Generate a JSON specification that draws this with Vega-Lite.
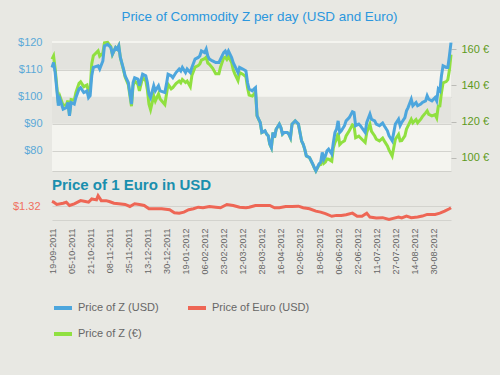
{
  "$schema": "https://vega.github.io/schema/vega-lite/v6.json",
  "background": "#e8e8e3",
  "padding": {"left": 12, "top": 9, "right": 13, "bottom": 35},
  "autosize": {"type": "pad"},
  "title": {"text": "Price of Commodity Z per day (USD and Euro)", "fontSize": 13.4, "font": "Liberation Sans", "fontWeight": "normal", "color": "#2b97de", "anchor": "middle", "offset": 13, "dx": 9},
  "config": {"font": "Liberation Sans", "view": {"stroke": null}},
  "datasets": {
    "z": [
      {"t":0,"usd":110.9,"eur":154.5},{"t":1,"usd":112.7,"eur":156.3},{"t":2,"usd":109.0,"eur":149.1},{"t":4,"usd":96.7,"eur":130.3},{"t":5,"usd":99.1,"eur":133.9},{"t":7,"usd":95.4,"eur":128.9},{"t":9,"usd":96.0,"eur":129.3},{"t":10,"usd":97.9,"eur":131.6},{"t":11,"usd":93.0,"eur":123.7},{"t":12,"usd":97.9,"eur":132.2},{"t":14,"usd":97.3,"eur":131.8},{"t":15,"usd":99.7,"eur":136.0},{"t":17,"usd":102.9,"eur":141.2},{"t":18,"usd":103.4,"eur":142.0},{"t":20,"usd":101.6,"eur":139.3},{"t":22,"usd":102.2,"eur":140.2},{"t":23,"usd":99.7,"eur":136.0},{"t":24,"usd":100.4,"eur":137.5},{"t":25,"usd":107.8,"eur":151.9},{"t":26,"usd":110.9,"eur":156.5},{"t":29,"usd":111.5,"eur":159.1},{"t":30,"usd":110.3,"eur":156.2},{"t":32,"usd":113.3,"eur":157.9},{"t":33,"usd":118.9,"eur":163.6},{"t":35,"usd":119.5,"eur":163.9},{"t":37,"usd":118.3,"eur":161.5},{"t":38,"usd":115.8,"eur":157.2},{"t":40,"usd":118.3,"eur":161.0},{"t":41,"usd":117.7,"eur":160.1},{"t":42,"usd":118.9,"eur":161.9},{"t":43,"usd":114.6,"eur":155.4},{"t":45,"usd":110.3,"eur":148.4},{"t":46,"usd":107.8,"eur":144.7},{"t":48,"usd":105.3,"eur":140.4},{"t":50,"usd":97.3,"eur":128.5},{"t":51,"usd":105.3,"eur":139.8},{"t":52,"usd":107.1,"eur":142.5},{"t":54,"usd":106.6,"eur":140.7},{"t":55,"usd":104.1,"eur":136.9},{"t":57,"usd":108.4,"eur":144.5},{"t":59,"usd":107.8,"eur":142.5},{"t":60,"usd":105.3,"eur":137.6},{"t":61,"usd":101.0,"eur":129.6},{"t":62,"usd":99.7,"eur":126.6},{"t":64,"usd":104.1,"eur":134.2},{"t":65,"usd":102.2,"eur":131.4},{"t":67,"usd":104.1,"eur":135.3},{"t":68,"usd":102.2,"eur":132.5},{"t":71,"usd":101.6,"eur":129.4},{"t":72,"usd":104.7,"eur":135.1},{"t":73,"usd":108.4,"eur":140.7},{"t":75,"usd":107.8,"eur":138.1},{"t":76,"usd":107.1,"eur":138.7},{"t":78,"usd":109.0,"eur":141.0},{"t":80,"usd":110.3,"eur":142.4},{"t":81,"usd":109.6,"eur":141.4},{"t":82,"usd":110.9,"eur":143.3},{"t":84,"usd":109.0,"eur":141.6},{"t":85,"usd":110.3,"eur":142.4},{"t":87,"usd":109.0,"eur":139.3},{"t":88,"usd":110.9,"eur":145.5},{"t":90,"usd":114.0,"eur":150.1},{"t":92,"usd":114.6,"eur":151.0},{"t":93,"usd":115.2,"eur":151.9},{"t":94,"usd":117.0,"eur":154.0},{"t":96,"usd":116.4,"eur":154.8},{"t":97,"usd":117.7,"eur":155.7},{"t":98,"usd":115.2,"eur":152.4},{"t":99,"usd":114.0,"eur":151.7},{"t":101,"usd":113.3,"eur":149.6},{"t":103,"usd":112.7,"eur":146.5},{"t":105,"usd":112.7,"eur":146.5},{"t":106,"usd":114.0,"eur":150.1},{"t":108,"usd":116.4,"eur":155.3},{"t":109,"usd":117.0,"eur":155.7},{"t":110,"usd":115.8,"eur":154.4},{"t":111,"usd":117.0,"eur":156.0},{"t":113,"usd":114.6,"eur":152.6},{"t":114,"usd":112.7,"eur":148.7},{"t":115,"usd":111.5,"eur":146.4},{"t":117,"usd":109.0,"eur":142.7},{"t":118,"usd":110.9,"eur":147.1},{"t":120,"usd":110.3,"eur":146.2},{"t":122,"usd":109.6,"eur":144.7},{"t":123,"usd":105.3,"eur":138.7},{"t":124,"usd":102.9,"eur":134.6},{"t":126,"usd":102.2,"eur":134.1},{"t":127,"usd":102.9,"eur":135.1},{"t":128,"usd":103.4,"eur":136.5},{"t":129,"usd":93.0,"eur":123.1},{"t":130,"usd":91.7,"eur":121.2},{"t":131,"usd":90.5,"eur":119.4},{"t":132,"usd":86.8,"eur":113.9},{"t":134,"usd":87.4,"eur":114.8},{"t":135,"usd":86.2,"eur":113.0},{"t":136,"usd":85.6,"eur":112.1},{"t":137,"usd":82.5,"eur":107.4},{"t":138,"usd":81.2,"eur":105.5},{"t":139,"usd":86.8,"eur":113.9},{"t":140,"usd":84.9,"eur":111.0},{"t":141,"usd":88.0,"eur":115.7},{"t":143,"usd":89.9,"eur":118.5},{"t":144,"usd":88.6,"eur":116.6},{"t":145,"usd":86.2,"eur":113.0},{"t":146,"usd":86.8,"eur":113.9},{"t":148,"usd":86.8,"eur":113.9},{"t":149,"usd":86.2,"eur":113.0},{"t":150,"usd":84.9,"eur":111.0},{"t":151,"usd":89.9,"eur":118.5},{"t":153,"usd":91.1,"eur":120.3},{"t":155,"usd":89.9,"eur":118.5},{"t":156,"usd":86.8,"eur":113.9},{"t":157,"usd":83.7,"eur":109.2},{"t":158,"usd":82.5,"eur":107.4},{"t":159,"usd":80.6,"eur":104.6},{"t":160,"usd":78.1,"eur":100.9},{"t":162,"usd":77.5,"eur":100.0},{"t":164,"usd":75.1,"eur":96.4},{"t":165,"usd":73.8,"eur":94.4},{"t":166,"usd":72.6,"eur":92.6},{"t":168,"usd":75.1,"eur":95.9},{"t":169,"usd":75.7,"eur":96.2},{"t":170,"usd":79.4,"eur":100.6},{"t":171,"usd":76.9,"eur":96.9},{"t":172,"usd":78.1,"eur":97.6},{"t":173,"usd":80.0,"eur":99.3},{"t":174,"usd":80.6,"eur":99.1},{"t":176,"usd":78.8,"eur":98.0},{"t":177,"usd":83.1,"eur":105.5},{"t":178,"usd":86.8,"eur":108.4},{"t":179,"usd":88.0,"eur":110.2},{"t":180,"usd":91.1,"eur":113.7},{"t":181,"usd":86.8,"eur":107.3},{"t":182,"usd":87.4,"eur":108.2},{"t":184,"usd":89.3,"eur":109.3},{"t":185,"usd":91.1,"eur":112.0},{"t":187,"usd":92.3,"eur":114.9},{"t":189,"usd":94.5,"eur":118.2},{"t":190,"usd":94.2,"eur":117.7},{"t":191,"usd":89.3,"eur":111.0},{"t":193,"usd":89.9,"eur":111.9},{"t":194,"usd":89.3,"eur":111.0},{"t":197,"usd":86.8,"eur":108.4},{"t":198,"usd":90.5,"eur":113.9},{"t":200,"usd":93.6,"eur":118.5},{"t":201,"usd":91.7,"eur":114.6},{"t":203,"usd":91.1,"eur":112.0},{"t":204,"usd":89.9,"eur":110.2},{"t":206,"usd":89.3,"eur":109.3},{"t":208,"usd":90.3,"eur":110.8},{"t":209,"usd":89.3,"eur":109.3},{"t":211,"usd":87.4,"eur":106.5},{"t":212,"usd":85.6,"eur":104.3},{"t":214,"usd":83.7,"eur":100.9},{"t":215,"usd":86.8,"eur":105.6},{"t":216,"usd":89.9,"eur":110.2},{"t":218,"usd":91.7,"eur":112.9},{"t":219,"usd":89.3,"eur":109.3},{"t":220,"usd":90.5,"eur":109.4},{"t":222,"usd":92.3,"eur":112.1},{"t":223,"usd":94.8,"eur":115.8},{"t":224,"usd":96.0,"eur":117.6},{"t":226,"usd":99.1,"eur":121.2},{"t":227,"usd":96.7,"eur":119.3},{"t":229,"usd":97.9,"eur":121.1},{"t":230,"usd":96.7,"eur":119.3},{"t":232,"usd":97.3,"eur":121.3},{"t":233,"usd":97.9,"eur":122.7},{"t":235,"usd":98.5,"eur":124.8},{"t":236,"usd":100.4,"eur":125.9},{"t":237,"usd":99.1,"eur":124.0},{"t":239,"usd":98.5,"eur":123.1},{"t":241,"usd":99.7,"eur":123.8},{"t":242,"usd":98.5,"eur":122.0},{"t":243,"usd":102.9,"eur":128.5},{"t":244,"usd":102.2,"eur":128.6},{"t":245,"usd":107.8,"eur":135.9},{"t":246,"usd":111.5,"eur":141.4},{"t":248,"usd":110.9,"eur":142.1},{"t":249,"usd":110.9,"eur":143.2},{"t":250,"usd":115.2,"eur":148.5},{"t":251,"usd":120.1,"eur":157.1}
    ],
    "fx": [
      {"t":0,"rate":1.366},{"t":1,"rate":1.36},{"t":3,"rate":1.338},{"t":7,"rate":1.349},{"t":9,"rate":1.358},{"t":11,"rate":1.329},{"t":14,"rate":1.344},{"t":18,"rate":1.372},{"t":21,"rate":1.364},{"t":23,"rate":1.358},{"t":25,"rate":1.387},{"t":28,"rate":1.379},{"t":29,"rate":1.416},{"t":31,"rate":1.372},{"t":34,"rate":1.372},{"t":36,"rate":1.364},{"t":39,"rate":1.349},{"t":42,"rate":1.344},{"t":46,"rate":1.338},{"t":49,"rate":1.32},{"t":52,"rate":1.344},{"t":55,"rate":1.338},{"t":58,"rate":1.329},{"t":61,"rate":1.30},{"t":65,"rate":1.30},{"t":69,"rate":1.30},{"t":74,"rate":1.291},{"t":77,"rate":1.265},{"t":80,"rate":1.261},{"t":83,"rate":1.27},{"t":86,"rate":1.291},{"t":89,"rate":1.30},{"t":92,"rate":1.314},{"t":95,"rate":1.309},{"t":99,"rate":1.32},{"t":103,"rate":1.314},{"t":106,"rate":1.309},{"t":110,"rate":1.338},{"t":114,"rate":1.329},{"t":118,"rate":1.314},{"t":122,"rate":1.309},{"t":124,"rate":1.314},{"t":128,"rate":1.329},{"t":134,"rate":1.329},{"t":137,"rate":1.329},{"t":140,"rate":1.309},{"t":143,"rate":1.309},{"t":147,"rate":1.32},{"t":151,"rate":1.32},{"t":155,"rate":1.323},{"t":158,"rate":1.309},{"t":162,"rate":1.30},{"t":166,"rate":1.279},{"t":169,"rate":1.27},{"t":172,"rate":1.256},{"t":176,"rate":1.233},{"t":179,"rate":1.241},{"t":182,"rate":1.241},{"t":185,"rate":1.247},{"t":189,"rate":1.261},{"t":192,"rate":1.233},{"t":195,"rate":1.233},{"t":198,"rate":1.261},{"t":200,"rate":1.226},{"t":204,"rate":1.218},{"t":208,"rate":1.221},{"t":212,"rate":1.204},{"t":214,"rate":1.212},{"t":218,"rate":1.226},{"t":220,"rate":1.218},{"t":223,"rate":1.235},{"t":226,"rate":1.221},{"t":230,"rate":1.226},{"t":233,"rate":1.235},{"t":236,"rate":1.25},{"t":241,"rate":1.25},{"t":244,"rate":1.261},{"t":247,"rate":1.279},{"t":250,"rate":1.30},{"t":251,"rate":1.309}
    ],
    "bands": [{"lo":110,"hi":120},{"lo":90,"hi":100}]
  },
  "spacing": 0,
  "vconcat": [
    {
      "width": 399,
      "height": 130,
      "view": {"fill": "#f4f4ef", "stroke": null},
      "layer": [
        {
          "data": {"name": "bands"},
          "mark": {"type": "rect", "color": "#e3e3de"},
          "encoding": {
            "x": {"datum": 0, "type": "quantitative", "scale": {"domain": [0, 251], "nice": false, "zero": false}, "axis": {"labels": false, "ticks": false, "grid": false, "domain": true, "domainColor": "#d0d0cb", "title": null}},
            "x2": {"datum": 251},
            "y": {"field": "lo", "type": "quantitative", "scale": {"domain": [72.5, 120.7], "nice": false, "zero": false}, "axis": null},
            "y2": {"field": "hi"}
          }
        },
        {
          "data": {"name": "z"},
          "mark": {"type": "line", "strokeWidth": 3},
          "encoding": {
            "x": {"field": "t", "type": "quantitative", "scale": {"domain": [0, 251], "nice": false, "zero": false}, "axis": {"labels": false, "ticks": false, "grid": false, "domain": true, "domainColor": "#d0d0cb", "title": null}},
            "y": {"field": "eur", "type": "quantitative", "scale": {"domain": [92.6, 164.6], "nice": false, "zero": false}, "axis": {"orient": "right", "values": [100, 120, 140, 160], "labelExpr": "datum.value + ' €'", "grid": false, "domain": false, "ticks": true, "tickSize": 5, "tickColor": "#bbbbb6", "labelColor": "#5e9a1c", "labelFontSize": 11, "labelPadding": 5, "title": null}},
            "color": {"datum": "Price of Z (€)", "type": "nominal"}
          }
        },
        {
          "data": {"name": "z"},
          "mark": {"type": "line", "strokeWidth": 3},
          "encoding": {
            "x": {"field": "t", "type": "quantitative", "scale": {"domain": [0, 251], "nice": false, "zero": false}, "axis": {"labels": false, "ticks": false, "grid": false, "domain": true, "domainColor": "#d0d0cb", "title": null}},
            "y": {"field": "usd", "type": "quantitative", "scale": {"domain": [72.5, 120.7], "nice": false, "zero": false}, "axis": {"orient": "left", "values": [80, 90, 100, 110, 120], "labelExpr": "'$' + datum.value", "grid": true, "gridColor": "#d3d3ce", "domain": false, "ticks": false, "labelColor": "#5ba8d8", "labelFontSize": 11, "labelPadding": 10, "title": null}},
            "color": {"datum": "Price of Z (USD)", "type": "nominal"}
          }
        }
      ],
      "resolve": {"scale": {"y": "independent"}}
    },
    {
      "width": 399,
      "height": 27,
      "title": {"text": "Price of 1 Euro in USD", "anchor": "start", "frame": "group", "fontSize": 15, "fontWeight": "bold", "color": "#1a8fae", "offset": -3},
      "data": {"name": "fx"},
      "mark": {"type": "line", "strokeWidth": 3},
      "encoding": {
        "x": {"field": "t", "type": "quantitative", "scale": {"domain": [0, 251], "nice": false, "zero": false}, "axis": {"values": [0, 12, 24, 36, 48, 60, 72, 84, 96, 108, 120, 132, 144, 156, 168, 180, 192, 204, 216, 228, 240], "labelExpr": "['19-09-2011','05-10-2011','21-10-2011','08-11-2011','25-11-2011','13-12-2011','30-12-2011','19-01-2012','06-02-2012','23-02-2012','12-03-2012','28-03-2012','16-04-2012','02-05-2012','18-05-2012','06-06-2012','22-06-2012','11-07-2012','27-07-2012','14-08-2012','30-08-2012'][round(datum.value/12)]", "labelAngle": 270, "labelFontSize": 9, "labelColor": "#666666", "labelPadding": 8, "ticks": false, "domain": false, "grid": false, "title": null, "labelOverlap": false}},
        "y": {"field": "rate", "type": "quantitative", "scale": {"domain": [1.2, 1.44], "nice": false, "zero": false}, "axis": {"values": [1.2, 1.32], "labelExpr": "datum.value == 1.32 ? '$1.32' : ''", "grid": true, "gridColor": "#d3d3ce", "domain": false, "ticks": false, "labelColor": "#f07060", "labelFontSize": 11, "labelPadding": 12, "title": null}},
        "color": {"datum": "Price of Euro (USD)", "type": "nominal", "scale": {"domain": ["Price of Z (USD)", "Price of Euro (USD)", "Price of Z (€)"], "range": ["#4da6dd", "#ee6655", "#90e040"]}, "legend": {"orient": "none", "legendX": 0, "legendY": 256, "direction": "horizontal", "columns": 2, "symbolType": "stroke", "symbolStrokeWidth": 4, "symbolSize": 324, "labelFontSize": 11, "labelColor": "#666666", "title": null, "columnPadding": 21, "rowPadding": 7}}
      }
    }
  ]
}
